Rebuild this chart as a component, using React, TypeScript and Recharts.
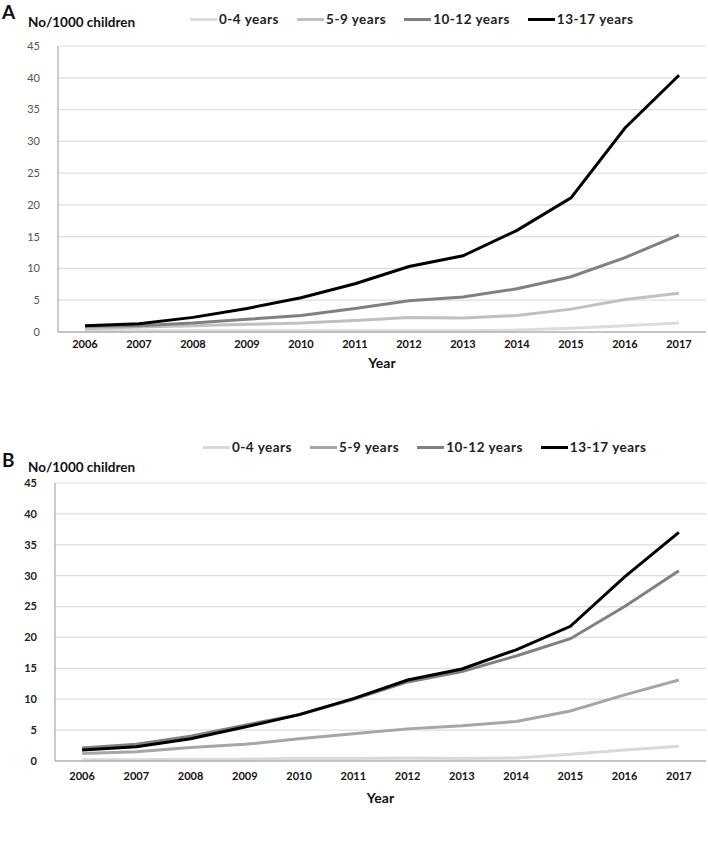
import { LineChart, Line, XAxis, YAxis, CartesianGrid } from 'recharts';

const years = ['2006', '2007', '2008', '2009', '2010', '2011', '2012', '2013', '2014', '2015', '2016', '2017'];
const yTicks = [0, 5, 10, 15, 20, 25, 30, 35, 40, 45];
const seriesNames = ['0-4 years', '5-9 years', '10-12 years', '13-17 years'];

// panel A
const a0to4 = [0.2, 0.2, 0.2, 0.2, 0.2, 0.2, 0.2, 0.2, 0.3, 0.6, 1.0, 1.4];
const a5to9 = [0.5, 0.8, 1.0, 1.2, 1.4, 1.8, 2.3, 2.2, 2.6, 3.6, 5.1, 6.1];
const a10to12 = [0.9, 1.0, 1.4, 2.0, 2.6, 3.7, 4.9, 5.5, 6.8, 8.7, 11.7, 15.3];
const a13to17 = [1.0, 1.3, 2.3, 3.7, 5.4, 7.6, 10.3, 12.0, 16.0, 21.1, 32.1, 40.4];

// panel B
const b0to4 = [0.2, 0.2, 0.3, 0.3, 0.4, 0.4, 0.5, 0.4, 0.5, 1.1, 1.8, 2.4];
const b5to9 = [1.2, 1.5, 2.2, 2.7, 3.6, 4.4, 5.2, 5.7, 6.4, 8.1, 10.7, 13.1];
const b10to12 = [2.1, 2.7, 4.0, 5.8, 7.5, 10.0, 12.8, 14.5, 17.0, 19.8, 25.0, 30.8];
const b13to17 = [1.8, 2.3, 3.6, 5.5, 7.5, 10.1, 13.1, 14.9, 18.0, 21.8, 29.8, 37.0];

const FONT = 'Lato, "Liberation Sans", sans-serif';

function buildRows(s0: number[], s1: number[], s2: number[], s3: number[]) {
    return years.map((year, i) => ({
        year,
        [seriesNames[0]]: s0[i],
        [seriesNames[1]]: s1[i],
        [seriesNames[2]]: s2[i],
        [seriesNames[3]]: s3[i],
    }));
}

function LegendRow({ colors, gap }: { colors: string[]; gap: number }) {
    return (
        <div style={{ display: 'flex', alignItems: 'center', fontFamily: FONT, fontWeight: 700, fontSize: 13.5, letterSpacing: 0.5, color: '#222', whiteSpace: 'nowrap' }}>
            {seriesNames.map((name, i) => (
                <div key={name} style={{ display: 'flex', alignItems: 'center', marginRight: gap }}>
                    <span style={{ display: 'inline-block', width: 27, height: 3, background: colors[i], marginRight: 2 }} />
                    <span>{name}</span>
                </div>
            ))}
        </div>
    );
}

interface PanelProps {
    letter: string;
    rows: Array<Record<string, string | number>>;
    colors: string[];
    top: number;
    height: number;
    marginTop: number;
    marginBottom: number;
    axisLeft: number;
    xAxisHeight: number;
    xTickMargin: number;
    legendTop: number;
    legendLeft: number;
    legendGap: number;
    titleTop: number;
    letterTop: number;
    yTickWeight: number;
    yTickColor: string;
}

function Panel(p: PanelProps) {
    return (
        <div style={{ position: 'absolute', left: 0, top: p.top, width: 708, height: p.height }}>
            <LineChart width={708} height={p.height} data={p.rows} margin={{ top: p.marginTop, right: 2, left: 0, bottom: p.marginBottom }}>
                <CartesianGrid vertical={false} stroke="#dedede" strokeWidth={1.2} />
                <XAxis
                    dataKey="year"
                    scale="band"
                    height={p.xAxisHeight}
                    tickLine={false}
                    axisLine={{ stroke: '#9a9a9a' }}
                    tick={{ fill: '#111', fontSize: 11, fontWeight: 700, fontFamily: FONT }}
                    tickMargin={p.xTickMargin}
                    interval={0}
                    label={{ value: 'Year', position: 'insideBottom', offset: 0, fill: '#111', fontSize: 14, fontWeight: 700, fontFamily: FONT }}
                />
                <YAxis
                    width={p.axisLeft}
                    domain={[0, 45]}
                    ticks={yTicks}
                    interval={0}
                    tickLine={false}
                    axisLine={{ stroke: '#9a9a9a' }}
                    tick={{ fill: p.yTickColor, fontSize: 11, fontWeight: p.yTickWeight, fontFamily: FONT }}
                    tickMargin={12}
                />
                {seriesNames.map((name, i) => (
                    <Line
                        key={name}
                        dataKey={name}
                        stroke={p.colors[i]}
                        strokeWidth={3}
                        dot={false}
                        type="linear"
                        isAnimationActive={false}
                    />
                ))}
            </LineChart>
            <div style={{ position: 'absolute', left: 2, top: p.letterTop, fontFamily: FONT, fontWeight: 700, fontSize: 19, color: '#111' }}>{p.letter}</div>
            <div style={{ position: 'absolute', left: 28, top: p.titleTop, fontFamily: FONT, fontWeight: 700, fontSize: 13.5, color: '#111' }}>No/1000 children</div>
            <div style={{ position: 'absolute', left: p.legendLeft, top: p.legendTop }}>
                <LegendRow colors={p.colors} gap={p.legendGap} />
            </div>
        </div>
    );
}

export default function App() {
    return (
        <div style={{ position: 'fixed', left: 0, top: 0, width: 708, height: 848, background: '#fff' }}>
            <Panel
                letter="A"
                rows={buildRows(a0to4, a5to9, a10to12, a13to17)}
                colors={['#dcdcdc', '#c0c0c0', '#808080', '#000000']}
                top={0}
                height={380}
                marginTop={46}
                marginBottom={12}
                axisLeft={58}
                xAxisHeight={36}
                xTickMargin={2}
                legendTop={11}
                legendLeft={190}
                legendGap={18}
                titleTop={14}
                letterTop={0}
                yTickWeight={400}
                yTickColor="#555"
            />
            <Panel
                letter="B"
                rows={buildRows(b0to4, b5to9, b10to12, b13to17)}
                colors={['#d9d9d9', '#a6a6a6', '#808080', '#000000']}
                top={420}
                height={390}
                marginTop={63}
                marginBottom={7}
                axisLeft={55}
                xAxisHeight={42}
                xTickMargin={5}
                legendTop={19}
                legendLeft={203}
                legendGap={18}
                titleTop={39}
                letterTop={28}
                yTickWeight={700}
                yTickColor="#222"
            />
        </div>
    );
}
